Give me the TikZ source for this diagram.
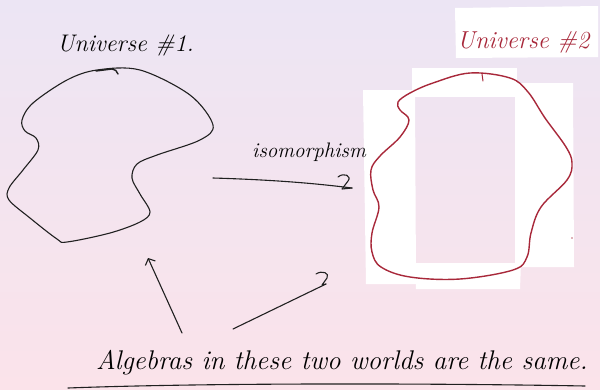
\documentclass[tikz,border=0pt]{standalone}
\usetikzlibrary{arrows.meta}
\definecolor{bgtop}{HTML}{ECE5F4}
\definecolor{bgbot}{HTML}{FBE3EA}
\definecolor{inkred}{HTML}{A8283A}
\definecolor{ink}{HTML}{202020}
\tikzset{
  pen/.style={draw=ink, line width=1.1pt, line cap=round, line join=round},
  redpen/.style={draw=inkred, line width=1.4pt, line cap=round, line join=round},
  patch/.style={fill=white, draw=none},
  hand/.style={font=\itshape, inner sep=0pt, anchor=base west},
  barb/.style={-{Straight Barb[length=5pt,width=11pt]}}
}
\begin{document}
\begin{tikzpicture}[x=1pt,y=-1pt]
\useasboundingbox (0,0) rectangle (600,389);
\shade[top color=bgtop, bottom color=bgbot] (0,0) rectangle (600,389);
% white patches around universe 2
\fill[patch] (455,8) -- (598,6) -- (598,57) -- (456,58) -- cycle;
\fill[patch] (412,68) -- (517,68) -- (517,97) -- (412,97) -- cycle;
\fill[patch] (363,90) -- (415,90) -- (416,284) -- (366,284) -- cycle;
\fill[patch] (515,83) -- (573,83) -- (574,267) -- (515,267) -- cycle;
\fill[patch] (415,263) -- (521,263) -- (520,289) -- (416,289) -- cycle;
% universe 1
\draw[pen] plot[smooth cycle, tension=0.55] coordinates {
  (97,70) (140,70) (190,95) (213,125) (200,140) (157,155) (137,164)
  (132,178) (140,194) (150,212) (140,222) (110,233) (67,242) (57,239)
  (30,218) (9,200) (9,188) (23,170) (38,150) (36,138) (25,131) (22,120)
  (33,103) (67,80)};
\draw[pen, line width=1.4pt] (96,71) -- (112,69) .. controls (115,69) and (117,71) .. (118,74);
\node[hand, font=\itshape\fontsize{24}{28}\selectfont] (u1) at (57,51) {Universe \#1.};
% universe 2
\draw[redpen] plot[smooth cycle, tension=0.6] coordinates {
  (470,73) (510,78) (528,92) (545,118) (566,147) (572,163) (567,180) (541,207)
  (531,233) (527,257) (513,270) (460,279) (410,277) (381,267) (372,252)
  (372,233) (379,207) (373,190) (371,170) (380,156) (400,137) (409,120)
  (400,110) (398,102) (410,93) (433,83)};
\draw[redpen, line width=1pt] (482,74) -- (483,81);
\fill[inkred!70] (572,238) circle (0.8pt);
\node[hand, text=inkred, font=\itshape\fontsize{24.5}{28}\selectfont] (u2) at (457,48) {Universe \#2};
% isomorphism arrow
\node[hand, font=\itshape\fontsize{21}{24}\selectfont] (iso) at (252,157) {isomorphism};
\coordinate (isoS) at (213,178);
\coordinate (isoE) at (352,188);
\draw[pen] (isoS) .. controls (280,180) and (320,184) .. (isoE);
\draw[pen] (338,177) .. controls (344,172) and (352,176) .. (348,181) -- (342,189) -- (isoE);
% bottom text
\node[hand, font=\itshape\fontsize{27}{31}\selectfont] (alg) at (96,369) {Algebras in these two worlds are the same.};
\coordinate (a1S) at (182,333);
\coordinate (a1E) at (148,258);
\draw[pen, barb] (a1S) -- (a1E);
\coordinate (a2S) at (233,329);
\coordinate (a2E) at (326,284);
\draw[pen] (a2S) -- (a2E);
\draw[pen] (316,274) .. controls (322,270) and (330,273) .. (327,278) -- (322,285) -- (a2E);
% underline
\draw[pen] (68,388) .. controls (200,383) and (420,383) .. (585,386);
\end{tikzpicture}
\end{document}
